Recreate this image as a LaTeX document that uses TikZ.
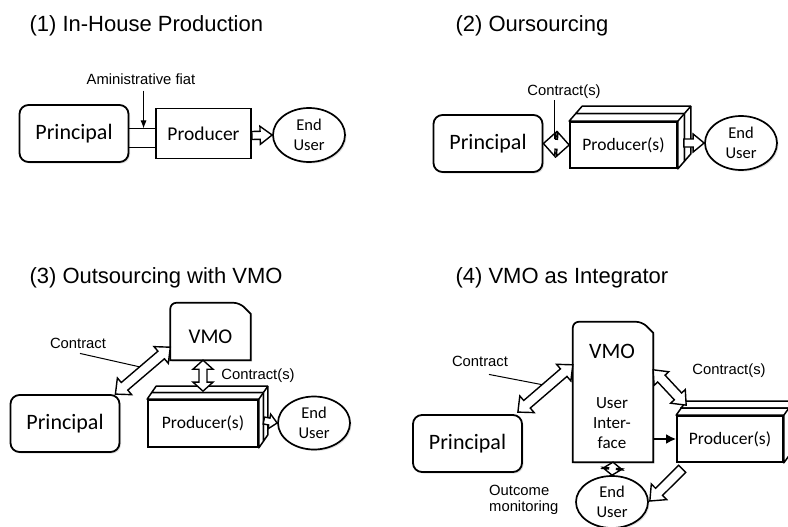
\documentclass[tikz,border=0pt]{standalone}
\usepackage{fontspec}
\setmainfont{Liberation Sans}
\newfontfamily\boxfont{Carlito}
\usetikzlibrary{calc,positioning,shapes.geometric,shadows,arrows.meta}
\pgfdeclarelayer{background}
\pgfsetlayers{background,main}

\tikzset{
  heading/.style={anchor=base west, font=\fontsize{22}{26}\selectfont},
  note/.style={font=\fontsize{14.8}{16}\selectfont, inner sep=1pt},
  softshadow/.style={drop shadow={opacity=0.25, shadow xshift=1.5pt, shadow yshift=-1.5pt}},
  principal/.style={draw, line width=1.8pt, rounded corners=9pt, fill=white, minimum width=109pt, minimum height=57pt, font=\boxfont\fontsize{22}{24}\selectfont, softshadow},
  producer/.style={draw, line width=1.7pt, fill=white, inner sep=0pt, font=\boxfont\fontsize{17.5}{20}\selectfont},
  enduser/.style={draw, ellipse, line width=1.7pt, fill=white, inner sep=0pt, minimum width=72pt, minimum height=54pt, align=center, font=\boxfont\fontsize{16.5}{20}\selectfont, softshadow},
  vmobox/.style={minimum width=80pt, inner sep=0pt},
  hollow/.style={draw, line width=1.4pt, fill=white},
  cube/.style={draw, line width=1.5pt, fill=white, line join=round},
  pipe/.style={line width=1.7pt},
  lead/.style={line width=1pt},
}

% block arrow with one head: from, to, shaft half width, head half width, head length
\newcommand{\onearrow}[5]{%
  \coordinate (ba) at (#1); \coordinate (bb) at (#2);
  \coordinate (bm) at ($(bb)!#5!(ba)$);
  \draw[hollow] ($(ba)!#3!90:(bb)$) -- ($(bm)!#3!90:(bb)$) -- ($(bm)!#4!90:(bb)$) -- (bb)
    -- ($(bm)!#4!-90:(bb)$) -- ($(bm)!#3!-90:(bb)$) -- ($(ba)!#3!-90:(bb)$) -- cycle;
}
% block arrow with two heads
\newcommand{\twoarrow}[5]{%
  \coordinate (ba) at (#1); \coordinate (bb) at (#2);
  \coordinate (bm) at ($(bb)!#5!(ba)$);
  \coordinate (bn) at ($(ba)!#5!(bb)$);
  \draw[hollow] (ba) -- ($(bn)!#4!90:(bb)$) -- ($(bn)!#3!90:(bb)$) -- ($(bm)!#3!90:(bb)$)
    -- ($(bm)!#4!90:(bb)$) -- (bb) -- ($(bm)!#4!-90:(bb)$) -- ($(bm)!#3!-90:(bb)$)
    -- ($(bn)!#3!-90:(bb)$) -- ($(bn)!#4!-90:(bb)$) -- cycle;
}
% two stacked slabs behind a producer node
\newcommand{\prodcube}[3]{%
  \begin{pgfonlayer}{background}
    \draw[cube] ($(#1.south west)+(#2,-#3)$) rectangle ($(#1.north east)+(#2,-#3)$);
    \draw[cube] ($(#1.north west)+(#2,-#3)$) -- ($(#1.north west)+(2*#2,-2*#3)$) -- ($(#1.north east)+(2*#2,-2*#3)$)
      -- ($(#1.south east)+(2*#2,-2*#3)$) -- ($(#1.south east)+(#2,-#3)$) -- ($(#1.north east)+(#2,-#3)$) -- cycle;
    \draw[cube] ($(#1.north east)+(#2,-#3)$) -- ($(#1.north east)+(2*#2,-2*#3)$);
    \draw[cube] (#1.north west) -- ($(#1.north west)+(#2,-#3)$) -- ($(#1.north east)+(#2,-#3)$)
      -- ($(#1.south east)+(#2,-#3)$) -- (#1.south east) -- (#1.north east) -- cycle;
    \draw[cube] (#1.north east) -- ($(#1.north east)+(#2,-#3)$);
  \end{pgfonlayer}}
% VMO outline, one corner cut off
\newcommand{\snipbox}[1]{%
  \begin{pgfonlayer}{background}
    \draw[line width=1.7pt, fill=white, softshadow] (#1.south west) [rounded corners=6pt] -- (#1.north west)
      -- ($(#1.north east)+(-11,0)$) [sharp corners] -- ($(#1.north east)+(0,11)$) -- (#1.south east) -- cycle;
  \end{pgfonlayer}}

\begin{document}
\begin{tikzpicture}[x=1pt, y=-1pt]
    \begin{pgfonlayer}{background}
      \fill[white] (0,0) rectangle (788,527);
    \end{pgfonlayer}
    \useasboundingbox (0,0) rectangle (788,527);

    % (1)
    \node[heading] (t1) at (26,32) {(1) In-House Production};
    \node[principal] (princ1) at (74,133.5) {Principal};
    \node[producer, minimum width=95pt, minimum height=50pt, font=\boxfont\fontsize{19.5}{22}\selectfont] (prod1) at (203.5,133.5) {Producer};
    \node[enduser] (end1) at (309,135) {End\\User};
    \node[note] (fiat) at (141,79) {Aministrative fiat};
    \coordinate (pipe1) at ($(princ1.east)!0.55!(prod1.west)+(0,-5)$);
    \draw[pipe] ($(princ1.east)+(0,-5)$) -- ($(prod1.west)+(0,-5)$);
    \draw[pipe] ($(princ1.east)+(0,14)$) -- ($(prod1.west)+(0,14)$);
    \draw[lead, -{Latex[length=8pt,width=6pt]}] ($(fiat.south -| pipe1)+(0,5)$) -- (pipe1);
    \onearrow{$(prod1.east)+(0,2)$}{end1.west}{4pt}{9pt}{12pt}

    % (2)
    \node[heading] (t2) at (452,32) {(2) Oursourcing};
    \node[principal] (princ2) at (488,143.5) {Principal};
    \node[producer, minimum width=107pt, minimum height=46pt] (prod2) at (623.5,145) {Producer(s)};
    \prodcube{prod2}{6.5}{7.5}
    \node[enduser] (end2) at (741,143) {End\\User};
    \node[note] (contract2) at (564,92) {Contract(s)};
    \twoarrow{princ2.east}{prod2.west}{5pt}{12pt}{12pt}
    \coordinate (ct2) at ($(princ2.east)!0.45!(prod2.west)+(0,-5)$);
    \draw[lead] (contract2.south -| ct2) -- (ct2);
    \onearrow{$(prod2.east)+(6,-2)$}{end2.west}{4pt}{9pt}{11pt}

    % (3)
    \node[heading] (t3) at (26,283) {(3) Outsourcing with VMO};
    \node[principal] (princ3) at (65,423.5) {Principal};
    \node[vmobox, minimum height=57pt, text height=23.5pt, text depth=0pt, font=\boxfont\fontsize{21}{24}\selectfont] (vmo3) at (210.5,331.5) {VMO};
    \snipbox{vmo3}
    \node[producer, minimum width=110pt, minimum height=47pt] (prod3) at (203,423.5) {Producer(s)};
    \prodcube{prod3}{4.5}{6.5}
    \node[enduser, minimum height=53pt] (end3) at (314,423) {End\\User};
    \node[note] (contract3) at (78,343) {Contract};
    \node[note] (contracts3) at (258,376) {Contract(s)};
    \coordinate (p3a) at ($(princ3.north east)+(-5,0)$);
    \coordinate (v3a) at ($(vmo3.south west)+(0,-13)$);
    \twoarrow{p3a}{v3a}{5pt}{11pt}{12pt}
    \draw[lead] ($(contract3.south)+(2,4)$) -- ($(p3a)!0.5!(v3a)!5pt!90:(v3a)$);
    \twoarrow{vmo3.south -| prod3.north}{$(prod3.north)+(0,-8)$}{4pt}{10pt}{9pt}
    \onearrow{$(prod3.east)+(5,-3)$}{end3.west}{3.5pt}{7.5pt}{8pt}

    % (4)
    \node[heading] (t4) at (452,283) {(4) VMO as Integrator};
    \node[principal] (princ4) at (467.5,443.5) {Principal};
    \node[vmobox, minimum height=140pt] (vmo4) at (613,392) {};
    \snipbox{vmo4}
    \node[font=\boxfont\fontsize{22}{24}\selectfont] (vmolbl4) at (612,351) {VMO};
    \node[align=center, font=\boxfont\fontsize{17}{20}\selectfont] (ui4) at (612,423) {User\\Inter-\\face};
    \node[producer, minimum width=106pt, minimum height=46pt] (prod4) at (730,439) {Producer(s)};
    \prodcube{prod4}{5}{7}
    \node[enduser, minimum height=52pt] (end4) at (612,502) {End\\User};
    \node[note] (contract4) at (480,361) {Contract};
    \node[note] (contracts4) at (729,371) {Contract(s)};
    \node[note, align=left, anchor=west] (monitor4) at (488,500) {Outcome\\monitoring};
    \coordinate (p4a) at ($(princ4.north east)+(-5,-2)$);
    \coordinate (v4a) at ($(vmo4.north west)+(0,43)$);
    \twoarrow{p4a}{v4a}{5pt}{11pt}{12pt}
    \draw[lead] ($(contract4.south)+(9,7)$) -- ($(p4a)!0.5!(v4a)!5pt!90:(v4a)$);
    \twoarrow{$(vmo4.north east)+(0,48)$}{$(prod4.north west)+(10,-10)$}{5pt}{10pt}{12pt}
    \draw[line width=2.4pt, -{Latex[length=10pt,width=10pt]}] (vmo4.east |- prod4.west) -- (prod4.west);
    \twoarrow{vmo4.south}{end4.north}{4pt}{10pt}{7pt}
    \onearrow{$(prod4.south west)+(6,6)$}{$(end4.east)+(1,-1)$}{5pt}{11pt}{13pt}
\end{tikzpicture}
\end{document}
